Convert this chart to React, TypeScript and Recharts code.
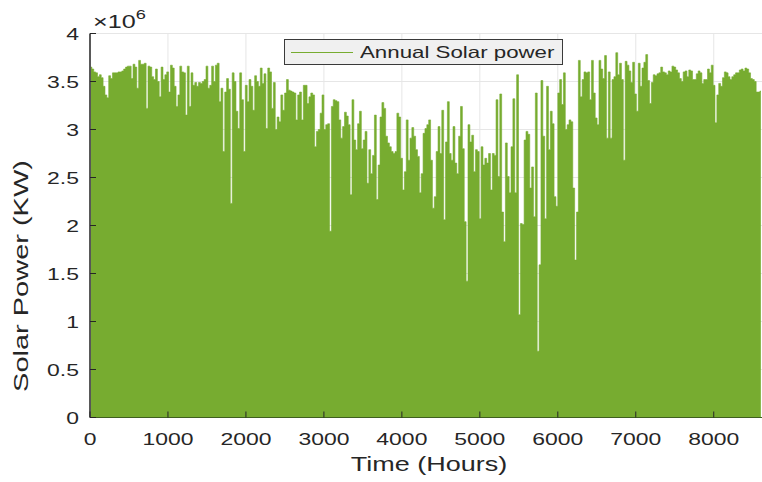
import React from 'react';
import { ComposedChart, Area, XAxis, YAxis, CartesianGrid, Legend } from 'recharts';

// Daily peak solar power (units of 10^6 KW), day by day
const peaksJanMar = [
  3.65, 3.63, 3.60, 3.59, 3.55, 3.57, 3.54, 3.45, 3.36, 3.33, 3.56, 3.53, 3.59, 3.59, 3.59, 3.60, 3.60, 3.61,
  3.63, 3.65, 3.66, 3.66, 3.53, 3.68, 3.65, 3.43, 3.72, 3.68, 3.68, 3.69, 3.22, 3.66, 3.65, 3.55, 3.52, 3.63,
  3.50, 3.34, 3.65, 3.52, 3.57, 3.60, 3.39, 3.67, 3.64, 3.45, 3.24, 3.36, 3.66, 3.60, 3.59, 3.15, 3.66, 3.24,
  3.59, 3.46, 3.49, 3.45, 3.49, 3.48, 3.50, 3.52, 3.66, 3.43, 3.46, 3.66, 3.50, 3.67, 3.69, 3.29, 3.43, 2.77,
];
const peaksMarMay = [
  3.39, 3.53, 3.42, 2.23, 3.59, 3.50, 3.19, 3.01, 3.59, 3.31, 2.77, 3.46, 3.29, 3.52, 3.45, 3.20, 3.56, 3.50,
  3.45, 3.64, 3.48, 3.58, 3.01, 3.64, 3.60, 3.22, 3.49, 3.00, 3.13, 3.08, 3.36, 3.20, 3.38, 3.52, 3.41, 3.40,
  3.39, 3.38, 3.10, 3.36, 3.39, 3.10, 3.46, 3.46, 3.27, 3.34, 3.38, 3.36, 2.82, 2.98, 3.00, 3.17, 3.36, 3.00,
  3.05, 3.06, 1.94, 3.24, 3.31, 3.30, 3.29, 3.10, 2.91, 3.03, 3.18, 3.14, 3.05, 2.32, 3.31, 2.89, 2.79,
];
const peaksMayJul = [
  3.06, 3.19, 2.80, 2.89, 2.98, 2.44, 2.79, 2.54, 2.73, 3.15, 2.27, 2.63, 3.13, 3.28, 3.22, 2.93, 2.86, 2.82,
  2.77, 2.75, 2.77, 3.17, 3.13, 2.70, 2.37, 2.56, 3.10, 2.68, 2.91, 3.02, 2.93, 2.79, 2.72, 2.34, 2.54, 2.96,
  3.01, 3.05, 3.10, 2.68, 2.18, 2.30, 2.77, 3.03, 2.75, 3.20, 2.06, 2.87, 3.29, 2.75, 2.68, 3.03, 2.65, 2.54,
  2.93, 3.24, 2.80, 2.04, 1.42, 3.05, 2.87, 2.94, 2.56, 2.79, 2.77, 2.07, 2.82, 2.63, 2.70, 2.65, 2.75,
];
const peaksAugOct = [
  2.37, 2.75, 2.73, 3.31, 2.51, 3.37, 2.14, 1.83, 2.86, 2.51, 2.34, 2.82, 3.32, 2.34, 3.57, 1.07, 2.02, 2.01,
  2.89, 2.98, 2.95, 2.39, 2.61, 2.09, 3.38, 0.69, 1.59, 3.51, 2.93, 2.07, 3.45, 2.79, 3.19, 3.06, 2.30, 2.20,
  3.38, 3.52, 3.26, 3.59, 3.00, 3.05, 3.10, 3.08, 2.39, 1.64, 2.14, 3.72, 3.34, 3.52, 3.60, 3.59, 3.60, 3.31,
  3.72, 3.38, 3.12, 3.05, 3.72, 3.63, 3.53, 3.77, 2.91, 3.60, 2.91, 3.52, 3.55, 3.80, 3.57, 3.69, 3.52, 2.68,
];
const peaksOctDec = [
  3.71, 3.67, 3.61, 3.49, 3.70, 3.37, 3.19, 3.69, 3.45, 3.64, 3.70, 3.78, 3.51, 3.27, 3.49, 3.57, 3.56, 3.58,
  3.59, 3.65, 3.60, 3.59, 3.57, 3.61, 3.60, 3.66, 3.65, 3.62, 3.59, 3.53, 3.50, 3.60, 3.61, 3.55, 3.62, 3.61,
  3.52, 3.52, 3.58, 3.61, 3.59, 3.48, 3.52, 3.52, 3.63, 3.59, 3.67, 3.46, 3.07, 3.36, 3.48, 3.45, 3.54, 3.60,
  3.59, 3.55, 3.52, 3.55, 3.57, 3.59, 3.59, 3.62, 3.63, 3.61, 3.64, 3.63, 3.59, 3.53, 3.52, 3.50, 3.39, 3.39, 3.40,
];

const dailyPeak = [...peaksJanMar, ...peaksMarMay, ...peaksMayJul, ...peaksAugOct, ...peaksOctDec];

const xTicks = [0, 1000, 2000, 3000, 4000, 5000, 6000, 7000, 8000];
const yTicks = [0, 0.5, 1, 1.5, 2, 2.5, 3, 3.5, 4];
const X_MAX = 8760;

const data = dailyPeak.map((v, i) => ({ hour: i * 24 + 12, power: v }));

const FONT = '"Liberation Sans", Arial, Helvetica, sans-serif';
const TEXT = '#262626';
const GREEN = '#77AC30';
const SX = 1.35;

function XTick(props: any) {
  const { x, y, payload } = props;
  return (
    <g>
      <line x1={x} x2={x} y1={y} y2={y - 6} stroke={TEXT} strokeWidth={1} />
      <text
        transform={`translate(${x},${y + 27.5}) scale(${SX},1)`}
        textAnchor="middle"
        fontSize={17}
        fill={TEXT}
        fontFamily={FONT}
      >
        {payload.value}
      </text>
    </g>
  );
}

function TopTick(props: any) {
  const { x, y } = props;
  return <line x1={x} x2={x} y1={y} y2={y + 6} stroke={TEXT} strokeWidth={1.2} />;
}

function YTick(props: any) {
  const { x, y, payload } = props;
  return (
    <g>
      <line x1={x} x2={x + 6} y1={y} y2={y} stroke={TEXT} strokeWidth={1} />
      <text
        transform={`translate(${x - 11},${y + 6.5}) scale(${SX},1)`}
        textAnchor="end"
        fontSize={17}
        fill={TEXT}
        fontFamily={FONT}
      >
        {payload.value}
      </text>
    </g>
  );
}

function LegendBox() {
  return (
    <div
      style={{
        boxSizing: 'border-box',
        width: 279,
        height: 26,
        background: '#f0f0f0',
        border: '1px solid #3a3a3a',
        position: 'relative',
        fontFamily: FONT,
      }}
    >
      <div
        style={{
          position: 'absolute',
          left: 6,
          top: 12,
          width: 62,
          height: 0,
          borderTop: `1px solid ${GREEN}`,
        }}
      />
      <span
        style={{
          position: 'absolute',
          left: 75,
          top: -1,
          fontSize: 16.5,
          lineHeight: '26px',
          whiteSpace: 'nowrap',
          color: TEXT,
          transform: `scaleX(${SX})`,
          transformOrigin: 'left center',
        }}
      >
        Annual Solar power
      </span>
    </div>
  );
}

export default function App() {
  return (
    <div
      style={{
        position: 'fixed',
        left: 8,
        top: 8,
        width: 754,
        height: 474,
        overflow: 'hidden',
        background: '#fff',
      }}
    >
      <ComposedChart
        width={770}
        height={474}
        data={data}
        margin={{ top: 25.5, right: 5, bottom: 24.5, left: 0 }}
      >
        <CartesianGrid stroke="#e6e6e6" strokeWidth={1} />
        <XAxis
          dataKey="hour"
          type="number"
          domain={[0, X_MAX]}
          ticks={xTicks}
          tickSize={0}
          tickMargin={0}
          tick={XTick}
          height={40}
          axisLine={{ stroke: '#3f5f1f', strokeWidth: 1 }}
          allowDataOverflow
        />
        <XAxis
          xAxisId="top"
          orientation="top"
          type="number"
          domain={[0, X_MAX]}
          ticks={xTicks}
          tickSize={0}
          tickMargin={0}
          tick={TopTick}
          height={0}
          axisLine={{ stroke: TEXT, strokeWidth: 1.2 }}
          allowDataOverflow
        />
        <YAxis
          type="number"
          domain={[0, 4]}
          ticks={yTicks}
          width={82}
          tickSize={0}
          tickMargin={0}
          tick={YTick}
          axisLine={{ stroke: TEXT, strokeWidth: 1.5 }}
          allowDataOverflow
        />
        <Legend
          layout="horizontal"
          verticalAlign="middle"
          align="center"
          content={() => <LegendBox />}
          wrapperStyle={{ position: 'absolute', left: 276, top: 31, width: 279, height: 26 }}
        />
        <Area
          type="step"
          dataKey="power"
          name="Annual Solar power"
          fill={GREEN}
          fillOpacity={1}
          stroke={GREEN}
          strokeWidth={0.6}
          baseValue={0}
          dot={false}
          activeDot={false}
          isAnimationActive={false}
        />
      </ComposedChart>
      <svg
        width={754}
        height={474}
        style={{ position: 'absolute', left: 0, top: 0, pointerEvents: 'none' }}
      >
        <g transform="translate(85,20) scale(1.4,1)">
          <text x={0} y={0} fontSize={18} fill={TEXT} fontFamily={FONT}>
            ×10
            <tspan fontSize={13} dy={-9}>6</tspan>
          </text>
        </g>
        <text
          transform={`translate(421,463) scale(${SX},1)`}
          textAnchor="middle"
          fontSize={20}
          fill={TEXT}
          fontFamily={FONT}
        >
          Time (Hours)
        </text>
        <text
          transform={`translate(20,268) rotate(-90) scale(1.38,1)`}
          textAnchor="middle"
          fontSize={21}
          fill={TEXT}
          fontFamily={FONT}
        >
          Solar Power (KW)
        </text>
      </svg>
    </div>
  );
}
